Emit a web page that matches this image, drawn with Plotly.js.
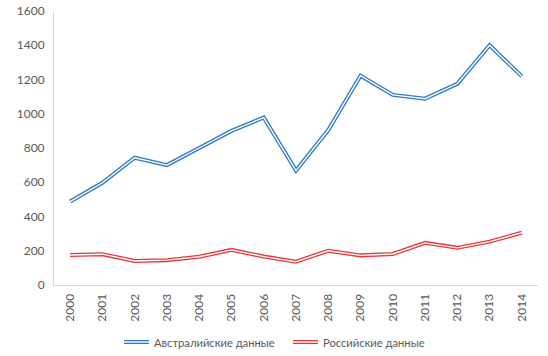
<!DOCTYPE html>
<html>
<head>
<meta charset="utf-8">
<script src="https://cdn.plot.ly/plotly-3.0.1.min.js"></script>
<style>html,body{margin:0;padding:0;background:#fff;}#chart{width:548px;height:356px;}</style>
</head>
<body>
<div id="chart"></div>
<script>
const years = ['2000','2001','2002','2003','2004','2005','2006','2007','2008','2009','2010','2011','2012','2013','2014'];
const australian = [487, 597, 743, 700, 800, 900, 978, 668, 905, 1222, 1110, 1088, 1175, 1400, 1218];
const russian = [175, 180, 140, 145, 165, 205, 166, 136, 200, 173, 181, 246, 217, 253, 305];
const seriesNames = ['Австралийские данные', 'Российские данные'];
const colors = ['#2E7BC4', '#E8383D'];

const font = {family: 'Lato, "Open Sans", sans-serif', size: 12, color: '#595959'};
const legendFont = {family: 'Lato, "Open Sans", sans-serif', size: 11.2, color: '#595959'};

function doubleLine(y, color, name) {
  return [
    {x: years, y: y, type: 'scatter', mode: 'lines', name: name, showlegend: false,
     line: {color: color, width: 4}, hoverinfo: 'skip'},
    {x: years, y: y, type: 'scatter', mode: 'lines', showlegend: false,
     line: {color: '#ffffff', width: 1.4}, hoverinfo: 'skip'}
  ];
}

const data = [].concat(
  doubleLine(australian, colors[0], seriesNames[0]),
  doubleLine(russian, colors[1], seriesNames[1])
);

// custom legend with double-line symbols
const legendY = 0 - 57/274;
const legendItems = [
  {x0: 124, x1: 149, tx: 152, color: colors[0], name: seriesNames[0]},
  {x0: 293, x1: 318, tx: 321, color: colors[1], name: seriesNames[1]}
];
const plotL = 54, plotW = 484;
const shapes = [];
const annotations = [];
legendItems.forEach(it => {
  const px0 = (it.x0 - plotL) / plotW, px1 = (it.x1 - plotL) / plotW;
  shapes.push({type: 'line', xref: 'paper', yref: 'paper', x0: px0, x1: px1, y0: legendY, y1: legendY,
               line: {color: it.color, width: 4}});
  shapes.push({type: 'line', xref: 'paper', yref: 'paper', x0: px0, x1: px1, y0: legendY, y1: legendY,
               line: {color: '#ffffff', width: 1.4}});
  annotations.push({xref: 'paper', yref: 'paper', x: (it.tx - plotL) / plotW, y: legendY,
                    xanchor: 'left', yanchor: 'middle', showarrow: false, text: it.name,
                    font: legendFont});
});

const layout = {
  width: 548, height: 356,
  margin: {l: 54, r: 10, t: 11, b: 71},
  paper_bgcolor: '#ffffff', plot_bgcolor: '#ffffff',
  showlegend: false,
  font: font,
  xaxis: {
    type: 'category', range: [-0.5, 14.5], showgrid: false, zeroline: false,
    showline: true, linecolor: '#D9D9D9', linewidth: 1, ticks: '',
    tickangle: -90, tickfont: font, fixedrange: true, ticklabelstandoff: 3
  },
  yaxis: {
    range: [0, 1600], dtick: 200, showgrid: false, zeroline: false,
    showline: true, linecolor: '#D9D9D9', linewidth: 1, ticks: '',
    tickfont: font, ticklen: 0, fixedrange: true, ticklabelstandoff: 6
  },
  shapes: shapes,
  annotations: annotations
};

Plotly.newPlot('chart', data, layout, {displayModeBar: false, staticPlot: true});
</script>
</body>
</html>
